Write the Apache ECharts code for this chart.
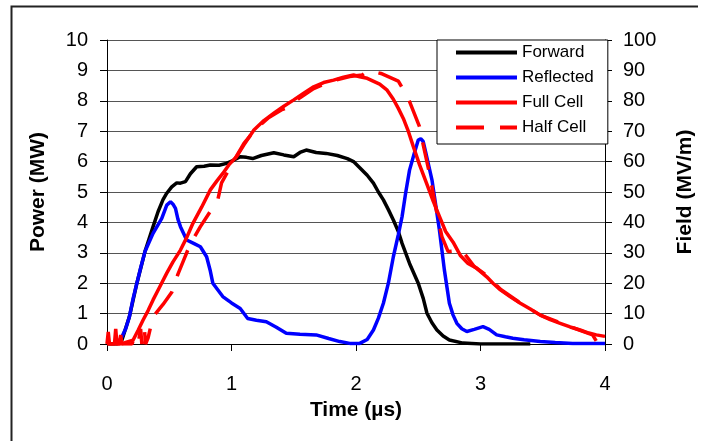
<!DOCTYPE html>
<html>
<head>
<meta charset="utf-8">
<script src="https://cdn.jsdelivr.net/npm/echarts@6/dist/echarts.min.js"></script>
<style>html,body{margin:0;padding:0;background:#fff;}#c{width:706px;height:441px;}</style>
</head>
<body>
<div id="c"></div>
<script>
const seriesNames = ['Forward', 'Reflected', 'Full Cell', 'Half Cell'];
const xTicks = [0, 1, 2, 3, 4];

const fwdT = [0,0.08,0.12,0.18,0.24,0.305,0.37,0.41,0.45,0.48,0.52,0.56,0.59,0.63,0.67,0.72,0.78,0.83,0.9,0.96,1.02,1.07,1.12,1.17,1.24,1.34,1.42,1.5,1.55,1.6,1.68,1.76,1.85,1.93,1.98,2.03,2.09,2.14,2.18,2.22,2.26,2.3,2.34,2.37,2.43,2.5,2.54,2.57,2.61,2.65,2.7,2.75,2.86,3.0,3.4];
const fwdP = [0,0,0.13,0.9,2.0,3.04,3.86,4.35,4.75,4.96,5.17,5.3,5.29,5.34,5.6,5.83,5.85,5.89,5.88,5.94,6.05,6.16,6.14,6.1,6.2,6.29,6.22,6.16,6.3,6.38,6.3,6.27,6.2,6.1,6.0,5.8,5.55,5.29,5.0,4.74,4.42,4.08,3.7,3.31,2.65,2.0,1.5,1.01,0.7,0.46,0.26,0.13,0.03,0,0];

const refT = [0.08,0.12,0.15,0.18,0.21,0.24,0.27,0.305,0.37,0.44,0.48,0.51,0.53,0.55,0.57,0.59,0.64,0.7,0.75,0.8,0.83,0.85,0.93,1.0,1.07,1.13,1.2,1.28,1.36,1.44,1.55,1.68,1.78,1.87,1.95,2.03,2.09,2.14,2.18,2.22,2.26,2.3,2.34,2.37,2.4,2.43,2.47,2.5,2.52,2.54,2.56,2.58,2.61,2.63,2.67,2.71,2.75,2.78,2.81,2.85,2.89,2.95,3.02,3.07,3.13,3.2,3.26,3.35,3.48,3.6,3.74,4.0];
const refP = [0,0.24,0.5,0.9,1.5,2.0,2.5,3.04,3.64,4.13,4.57,4.68,4.6,4.46,4.1,3.86,3.42,3.3,3.2,2.87,2.4,2.0,1.56,1.35,1.17,0.84,0.78,0.73,0.55,0.35,0.32,0.3,0.18,0.08,0.02,0.02,0.15,0.46,0.85,1.34,2.0,2.87,3.6,4.19,5.0,5.72,6.3,6.71,6.75,6.66,6.3,5.94,5.4,4.85,3.75,2.43,1.34,0.95,0.68,0.5,0.41,0.48,0.57,0.48,0.3,0.24,0.19,0.14,0.08,0.05,0.02,0.02];

const fullT = [0,0.01,0.02,0.03,0.06,0.07,0.08,0.1,0.11,0.12,0.15,0.21,0.25,0.29,0.33,0.37,0.42,0.48,0.53,0.59,0.64,0.69,0.76,0.83,0.88,0.93,0.98,1.04,1.1,1.18,1.26,1.34,1.42,1.5,1.58,1.66,1.74,1.82,1.9,1.98,2.03,2.09,2.19,2.25,2.3,2.34,2.38,2.42,2.46,2.51,2.57,2.62,2.67,2.72,2.78,2.84,2.9,2.97,3.05,3.1,3.16,3.24,3.32,3.4,3.48,3.56,3.64,3.72,3.8,3.87,3.93,4.0];
const fullF = [0,4,0,0,0,5,0,0,3,0,0.5,1.3,4.5,7.9,11,14.5,18.5,23.3,27,30.9,35,39.7,45,50.7,53.5,56.1,59,61.6,65.5,70.4,73.5,75.9,78.2,80.3,82.5,84.6,86,86.8,87.8,88.5,87.9,87.4,85.5,83.5,80.5,77.5,74.2,70,65,59,52.5,47,42,37,33.5,29,26.5,24.9,22.1,20,17.8,15.5,13.4,11.5,9.5,8,6.8,5.6,4.6,3.6,3,2.5];

const halfT = [0,0.05,0.1,0.15,0.2,0.22,0.25,0.27,0.28,0.3,0.31,0.33,0.37,0.45,0.52,0.57,0.62,0.67,0.75,0.82,0.89,0.92,1.0,1.1,1.2,1.3,1.4,1.46,1.55,1.66,1.8,1.95,2.05,2.1,2.2,2.34,2.42,2.51,2.54,2.59,2.64,2.69,2.74,2.85,2.95,3.05,3.16,3.32,3.48,3.64,3.8,3.9,3.93,3.96,4.0];
const halfF = [0,0,0,0,0,2,0,5,0,5,0,2,9,13,17,23,28,33,38.6,43,47.4,53,59,66,71,74.5,77,78,81,84,86.5,88,88.5,90,89,86.5,80.8,71.5,65.5,56.1,45,35.3,30.4,30.9,25.5,22.5,18,13.5,9.5,7,4.5,3,1,3,3];

const zip = (a, b) => a.map((v, i) => [v, b[i]]);

const chart = echarts.init(document.getElementById('c'));
const font = 'Liberation Sans, Arial, sans-serif';
const LW = 3.5;
chart.setOption({
  animation: false,
  backgroundColor: '#fff',
  grid: { left: 107, right: 101, top: 40, bottom: 97, containLabel: false },
  graphic: [{
    type: 'polyline', z: 0,
    shape: { points: [[698, 6.5], [11.5, 6.5], [11.5, 441]] },
    style: { stroke: '#222', lineWidth: 2, fill: null }
  }],
  legend: {
    orient: 'vertical', left: 437, top: 40,
    padding: [4, 14, 8, 17], itemGap: 8, itemWidth: 61, itemHeight: 14, itemTextGap: 3,
    backgroundColor: '#fff', borderColor: '#000', borderWidth: 1,
    itemStyle: { opacity: 0 },
    lineStyle: { width: 4 },
    textStyle: { fontFamily: font, fontSize: 17, color: '#000' },
    data: seriesNames
  },
  xAxis: {
    type: 'value', min: 0, max: 4, interval: 1,
    name: 'Time (\u00b5s)', nameLocation: 'middle', nameGap: 56,
    nameTextStyle: { fontFamily: font, fontSize: 21, fontWeight: 'bold', color: '#000' },
    axisLine: { onZero: false, lineStyle: { color: '#000', width: 1 } },
    axisTick: { show: true, length: 7, lineStyle: { color: '#000' } },
    axisLabel: { fontFamily: font, fontSize: 20, color: '#000', margin: 30,
      formatter: v => xTicks.includes(v) ? String(v) : '' },
    splitLine: { show: false }
  },
  yAxis: [{
    type: 'value', min: 0, max: 10, interval: 1, position: 'left',
    name: 'Power (MW)', nameLocation: 'middle', nameGap: 58, nameRotate: 90,
    nameTextStyle: { fontFamily: font, fontSize: 21, fontWeight: 'bold', color: '#000' },
    axisLine: { show: true, lineStyle: { color: '#000', width: 1 } },
    axisTick: { show: true, length: 7, lineStyle: { color: '#000' } },
    axisLabel: { fontFamily: font, fontSize: 20, color: '#000', margin: 19 },
    splitLine: { show: true, lineStyle: { color: '#555', width: 1 } }
  }, {
    type: 'value', min: 0, max: 100, interval: 10, position: 'right',
    name: 'Field (MV/m)', nameLocation: 'middle', nameGap: 70, nameRotate: 90,
    nameTextStyle: { fontFamily: font, fontSize: 21, fontWeight: 'bold', color: '#000' },
    axisLine: { show: true, lineStyle: { color: '#000', width: 1 } },
    axisTick: { show: true, length: 7, lineStyle: { color: '#000' } },
    axisLabel: { fontFamily: font, fontSize: 20, color: '#000', margin: 18 },
    splitLine: { show: false }
  }],
  series: [
    { name: seriesNames[0], type: 'line', yAxisIndex: 0, symbol: 'none', data: zip(fwdT, fwdP),
      lineStyle: { color: '#000', width: LW }, itemStyle: { color: '#000' } },
    { name: seriesNames[1], type: 'line', yAxisIndex: 0, symbol: 'none', data: zip(refT, refP),
      lineStyle: { color: '#0000ff', width: LW }, itemStyle: { color: '#0000ff' } },
    { name: seriesNames[2], type: 'line', yAxisIndex: 1, symbol: 'none', data: zip(fullT, fullF),
      lineStyle: { color: '#ff0000', width: LW }, itemStyle: { color: '#ff0000' } },
    { name: seriesNames[3], type: 'line', yAxisIndex: 1, symbol: 'none', data: zip(halfT, halfF),
      lineStyle: { color: '#ff0000', width: LW, type: [28, 16] }, itemStyle: { color: '#ff0000' } }
  ]
});
</script>
</body>
</html>
